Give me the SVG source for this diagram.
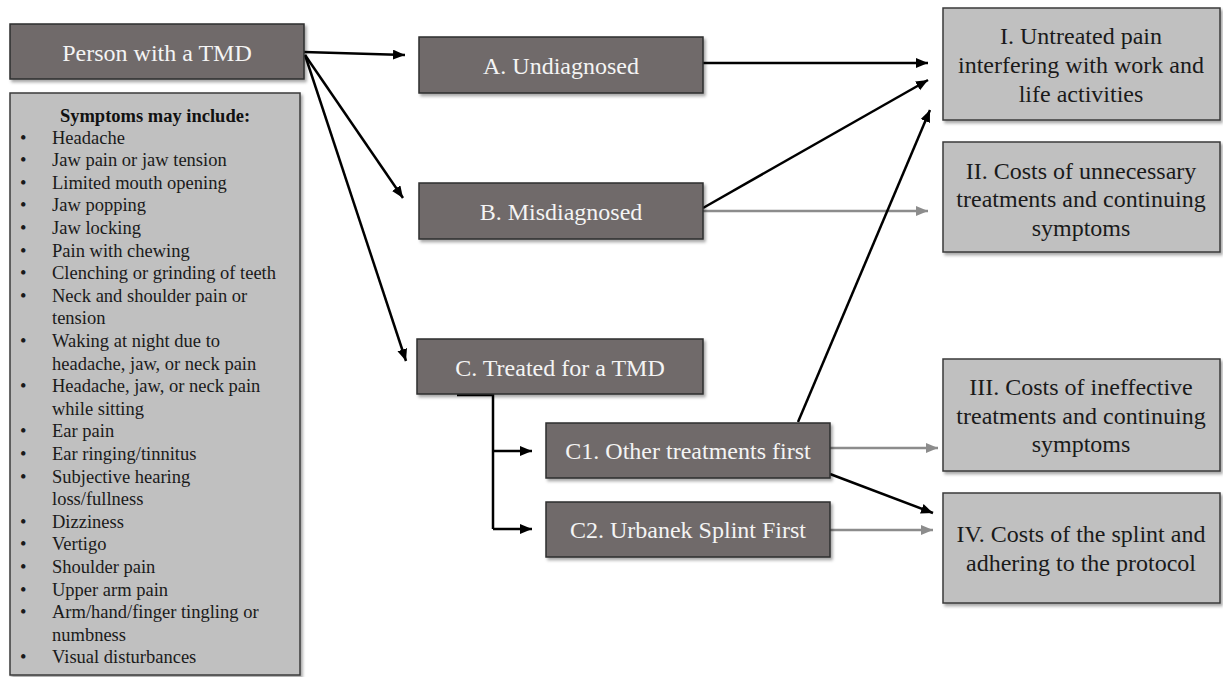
<svg xmlns="http://www.w3.org/2000/svg" width="1223" height="677" viewBox="0 0 1223 677">
<style>
.dark{fill:#706b6a;stroke:#2e2e2e;stroke-width:1.5}
.light{fill:#c0c0c0;stroke:#3a3a3a;stroke-width:1.5}
.nt{font-family:"Liberation Serif","Times New Roman",serif;font-size:24px;fill:#f4f4f4;text-anchor:middle}
.rt{font-family:"Liberation Serif","Times New Roman",serif;font-size:24px;fill:#1a1a1a;text-anchor:middle}
.st{font-family:"Liberation Serif","Times New Roman",serif;font-size:18.5px;fill:#1a1a1a}
.sh{font-family:"Liberation Serif","Times New Roman",serif;font-size:18.5px;font-weight:bold;fill:#111;text-anchor:middle}
.bl{stroke:#000;stroke-width:2.5;fill:none}
.gr{stroke:#8c8c8c;stroke-width:2.5;fill:none}
</style>
<defs>
<filter id="sh" x="-10%" y="-10%" width="120%" height="130%">
<feDropShadow dx="2" dy="2.5" stdDeviation="1.5" flood-color="#000" flood-opacity="0.35"/>
</filter>
<marker id="ab" markerUnits="userSpaceOnUse" markerWidth="14" markerHeight="12" refX="12" refY="5" orient="auto">
<path d="M0,0 L12,5 L0,10 Z" fill="#000"/>
</marker>
<marker id="ag" markerUnits="userSpaceOnUse" markerWidth="14" markerHeight="12" refX="12" refY="5" orient="auto">
<path d="M0,0 L12,5 L0,10 Z" fill="#8c8c8c"/>
</marker>
</defs>
<rect width="1223" height="677" fill="#fff"/>

<g id="connectors">
<line class="bl" x1="304" y1="52" x2="405" y2="55" marker-end="url(#ab)"/>
<line class="bl" x1="305" y1="55" x2="403" y2="198" marker-end="url(#ab)"/>
<line class="bl" x1="305" y1="55" x2="406" y2="361" marker-end="url(#ab)"/>
<line class="bl" x1="703" y1="63" x2="928" y2="63" marker-end="url(#ab)"/>
<line class="bl" x1="703" y1="208" x2="928" y2="80" marker-end="url(#ab)"/>
<line class="gr" x1="703" y1="211" x2="928" y2="211" marker-end="url(#ag)"/>
<line class="bl" x1="798" y1="422" x2="930" y2="110" marker-end="url(#ab)"/>
<line class="gr" x1="830" y1="448" x2="938" y2="448" marker-end="url(#ag)"/>
<line class="bl" x1="830" y1="474" x2="933" y2="513" marker-end="url(#ab)"/>
<line class="gr" x1="830" y1="530" x2="933" y2="530" marker-end="url(#ag)"/>
<polyline class="bl" points="457,395 493,395 493,529"/>
<line class="bl" x1="493" y1="451" x2="532" y2="451" marker-end="url(#ab)"/>
<line class="bl" x1="493" y1="529" x2="532" y2="529" marker-end="url(#ab)"/>
</g>

<g id="person">
<rect class="dark" x="10" y="24" width="294" height="55" filter="url(#sh)"/>
<text class="nt" x="157" y="61">Person with a TMD</text>
</g>

<g id="symptoms">
<rect class="light" x="10" y="93" width="290" height="582" filter="url(#sh)"/>
<text class="sh" x="155" y="122">Symptoms may include:</text>
<g class="st">
<text x="52" y="143.5">Headache</text>
<text x="52" y="166.1">Jaw pain or jaw tension</text>
<text x="52" y="188.7">Limited mouth opening</text>
<text x="52" y="211.3">Jaw popping</text>
<text x="52" y="233.9">Jaw locking</text>
<text x="52" y="256.5">Pain with chewing</text>
<text x="52" y="279.1">Clenching or grinding of teeth</text>
<text x="52" y="301.7">Neck and shoulder pain or</text>
<text x="52" y="324.3">tension</text>
<text x="52" y="346.9">Waking at night due to</text>
<text x="52" y="369.5">headache, jaw, or neck pain</text>
<text x="52" y="392.1">Headache, jaw, or neck pain</text>
<text x="52" y="414.7">while sitting</text>
<text x="52" y="437.3">Ear pain</text>
<text x="52" y="459.9">Ear ringing/tinnitus</text>
<text x="52" y="482.5">Subjective hearing</text>
<text x="52" y="505.1">loss/fullness</text>
<text x="52" y="527.7">Dizziness</text>
<text x="52" y="550.3">Vertigo</text>
<text x="52" y="572.9">Shoulder pain</text>
<text x="52" y="595.5">Upper arm pain</text>
<text x="52" y="618.1">Arm/hand/finger tingling or</text>
<text x="52" y="640.7">numbness</text>
<text x="52" y="663.3">Visual disturbances</text>
</g>
<g class="st">
<text x="20" y="143.5">•</text>
<text x="20" y="166.1">•</text>
<text x="20" y="188.7">•</text>
<text x="20" y="211.3">•</text>
<text x="20" y="233.9">•</text>
<text x="20" y="256.5">•</text>
<text x="20" y="279.1">•</text>
<text x="20" y="301.7">•</text>
<text x="20" y="346.9">•</text>
<text x="20" y="392.1">•</text>
<text x="20" y="437.3">•</text>
<text x="20" y="459.9">•</text>
<text x="20" y="482.5">•</text>
<text x="20" y="527.7">•</text>
<text x="20" y="550.3">•</text>
<text x="20" y="572.9">•</text>
<text x="20" y="595.5">•</text>
<text x="20" y="618.1">•</text>
<text x="20" y="663.3">•</text>
</g>
</g>

<g id="nodeA">
<rect class="dark" x="419" y="37" width="284" height="56" filter="url(#sh)"/>
<text class="nt" x="561" y="74">A. Undiagnosed</text>
</g>
<g id="nodeB">
<rect class="dark" x="419" y="183" width="284" height="56" filter="url(#sh)"/>
<text class="nt" x="561" y="220">B. Misdiagnosed</text>
</g>
<g id="nodeC">
<rect class="dark" x="417" y="339" width="286" height="55" filter="url(#sh)"/>
<text class="nt" x="560" y="376">C. Treated for a TMD</text>
</g>
<g id="nodeC1">
<rect class="dark" x="546" y="423" width="284" height="55" filter="url(#sh)"/>
<text class="nt" x="688" y="459">C1. Other treatments first</text>
</g>
<g id="nodeC2">
<rect class="dark" x="546" y="502" width="284" height="55" filter="url(#sh)"/>
<text class="nt" x="688" y="538">C2. Urbanek Splint First</text>
</g>

<g id="outI">
<rect class="light" x="943" y="8" width="277" height="112" filter="url(#sh)"/>
<text class="rt" x="1081" y="44">I. Untreated pain</text>
<text class="rt" x="1081" y="73">interfering with work and</text>
<text class="rt" x="1081" y="102">life activities</text>
</g>
<g id="outII">
<rect class="light" x="943" y="142" width="277" height="110" filter="url(#sh)"/>
<text class="rt" x="1081" y="179">II. Costs of unnecessary</text>
<text class="rt" x="1081" y="207">treatments and continuing</text>
<text class="rt" x="1081" y="236">symptoms</text>
</g>
<g id="outIII">
<rect class="light" x="943" y="359" width="277" height="112" filter="url(#sh)"/>
<text class="rt" x="1081" y="395">III. Costs of ineffective</text>
<text class="rt" x="1081" y="424">treatments and continuing</text>
<text class="rt" x="1081" y="452">symptoms</text>
</g>
<g id="outIV">
<rect class="light" x="943" y="493" width="277" height="110" filter="url(#sh)"/>
<text class="rt" x="1081" y="542">IV. Costs of the splint and</text>
<text class="rt" x="1081" y="571">adhering to the protocol</text>
</g>
</svg>
